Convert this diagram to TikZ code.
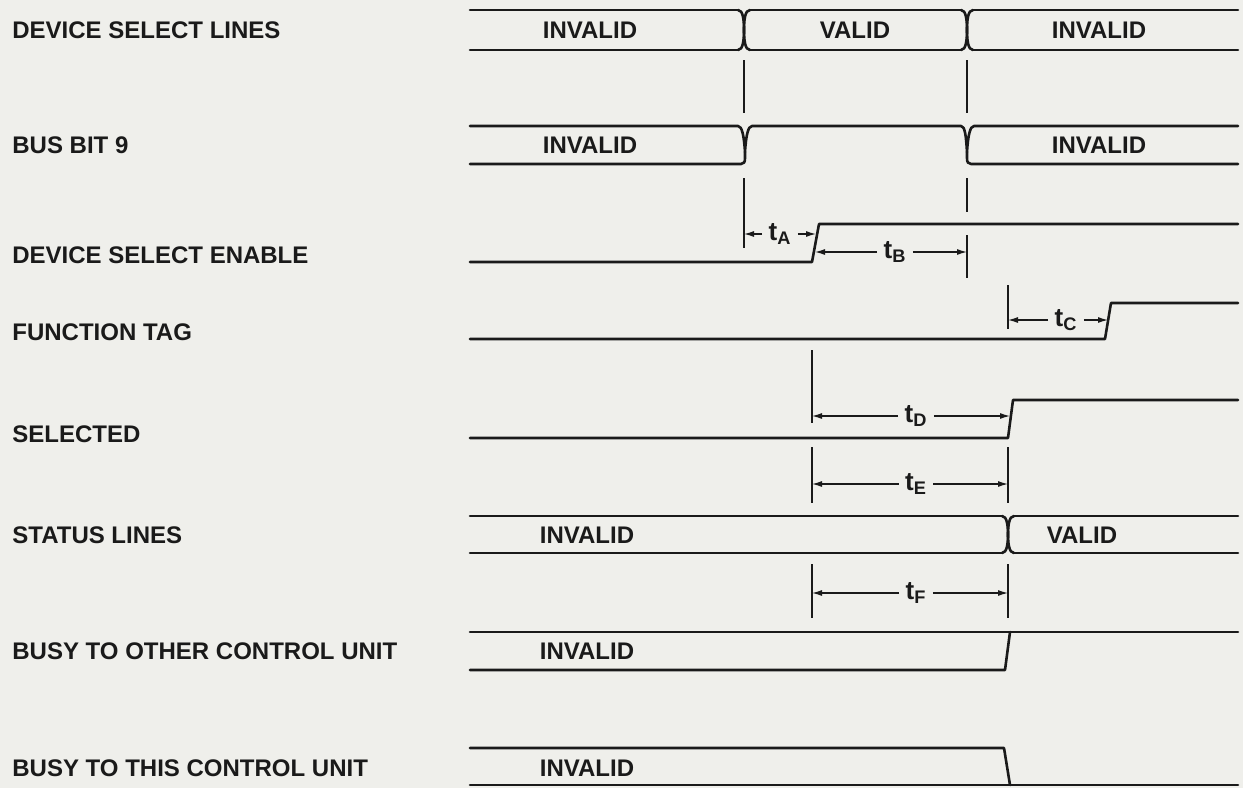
\documentclass[tikz,border=0pt]{standalone}
\usepackage{fontspec}
\setmainfont{Liberation Sans}
\usetikzlibrary{arrows.meta,positioning,calc}
\definecolor{cInk}{HTML}{1a1a1a}
\definecolor{cPaper}{HTML}{efefeb}

\begin{document}
\begin{tikzpicture}[x=0.5pt,y=-0.5pt,
    sig/.style={draw=cInk,line width=1.3pt,line cap=round,line join=round},
    guide/.style={draw=cInk,line width=0.8pt},
    dim/.style={draw=cInk,line width=0.6pt,-{Latex[length=5pt,width=3pt]}},
    txt/.style={font=\fontsize{12}{14}\selectfont\bfseries,text=cInk,inner sep=0pt},
    tlbl/.style={txt,font=\fontsize{13}{15}\selectfont\bfseries,inner xsep=3pt}]
  \fill[cPaper] (0,0) rectangle (1243,788);
  \useasboundingbox (0,0) rectangle (1243,788);
  % signal names
  \foreach \y/\s [count=\k] in {30/DEVICE SELECT LINES,145/BUS BIT 9,
      255/DEVICE SELECT ENABLE,332/FUNCTION TAG,434/SELECTED,535/STATUS LINES,
      651/BUSY TO OTHER CONTROL UNIT,768/BUSY TO THIS CONTROL UNIT}
     \node[txt,anchor=west] (name\k) at (12,\y) {\s};
  % bus values
  \foreach \x/\y/\s [count=\k] in {590/30/INVALID,855/30/VALID,1099/30/INVALID,
      590/145/INVALID,1099/145/INVALID,587/535/INVALID,1082/535/VALID,
      587/651/INVALID,587/768/INVALID}
     \node[txt] (val\k) at (\x,\y) {\s};
  % bus crossings
  \foreach \x/\t/\b in {744/10/50,967/10/50,1008/516/553}{
    \draw[sig] ({\x-6},\t) .. controls ({\x-1},\t) and (\x,{\t+10}) .. (\x,{(\t+\b)/2})
       .. controls (\x,{\b-10}) and ({\x-1},\b) .. ({\x-6},\b);
    \draw[sig] ({\x+6},\t) .. controls ({\x+1},\t) and (\x,{\t+10}) .. (\x,{(\t+\b)/2})
       .. controls (\x,{\b-10}) and ({\x+1},\b) .. ({\x+6},\b);
  }
  \foreach \a/\b/\y in {470/738/10,750/961/10,973/1238/10,470/738/50,750/961/50,973/1238/50,
      470/1002/516,1014/1238/516,470/1002/553,1014/1238/553}
     \draw[sig] (\a,\y) -- (\b,\y);
  % bus bit 9
  \draw[sig] (470,126) -- (738,126) .. controls (742,126) and (744,136) .. (745,152)
     .. controls (746,136) and (748,126) .. (752,126) -- (961,126)
     .. controls (965,126) and (966,136) .. (967,152)
     .. controls (968,136) and (970,126) .. (974,126) -- (1238,126);
  \draw[sig] (470,164) -- (741,164) .. controls (744,164) and (745,162) .. (745,158) -- (745,152);
  \draw[sig] (967,152) -- (967,158) .. controls (967,162) and (968,164) .. (971,164) -- (1238,164);
  % single lines
  \draw[sig] (470,262) -- (812,262) -- (819,224) -- (1238,224);
  \draw[sig] (470,339) -- (1105,339) -- (1111,303) -- (1238,303);
  \draw[sig] (470,438) -- (1008,438) -- (1013,400) -- (1238,400);
  \draw[sig] (470,632) -- (1238,632);
  \draw[sig] (470,670) -- (1005,670) -- (1010,632);
  \draw[sig] (470,748) -- (1004,748) -- (1010,785);
  \draw[sig] (470,785) -- (1238,785);
  % guide ticks
  \foreach \x/\ya/\yb in {744/60/113,967/60/113,744/178/248,967/178/212,967/235/278,
      1008/285/329,812/350/423,812/447/503,1008/447/503,812/564/618,1008/564/618}
     \draw[guide] (\x,\ya) -- (\x,\yb);
  % timing intervals
  \foreach \n/\xa/\xb/\xl/\y in {A/744/816/780/234,B/815/967/895/252,C/1008/1108/1066/320,
      D/812/1010/916/416,E/812/1008/916/484,F/812/1008/916/593}{
     \coordinate (\n0) at (\xa,\y);
     \coordinate (\n1) at (\xb,\y);
     \node[tlbl] (t\n) at (\xl,\y) {t\textsubscript{\n}};
     \draw[dim] (t\n.west |- \n0) -- (\n0);
     \draw[dim] (t\n.east |- \n1) -- (\n1);
  }
\end{tikzpicture}
\end{document}
